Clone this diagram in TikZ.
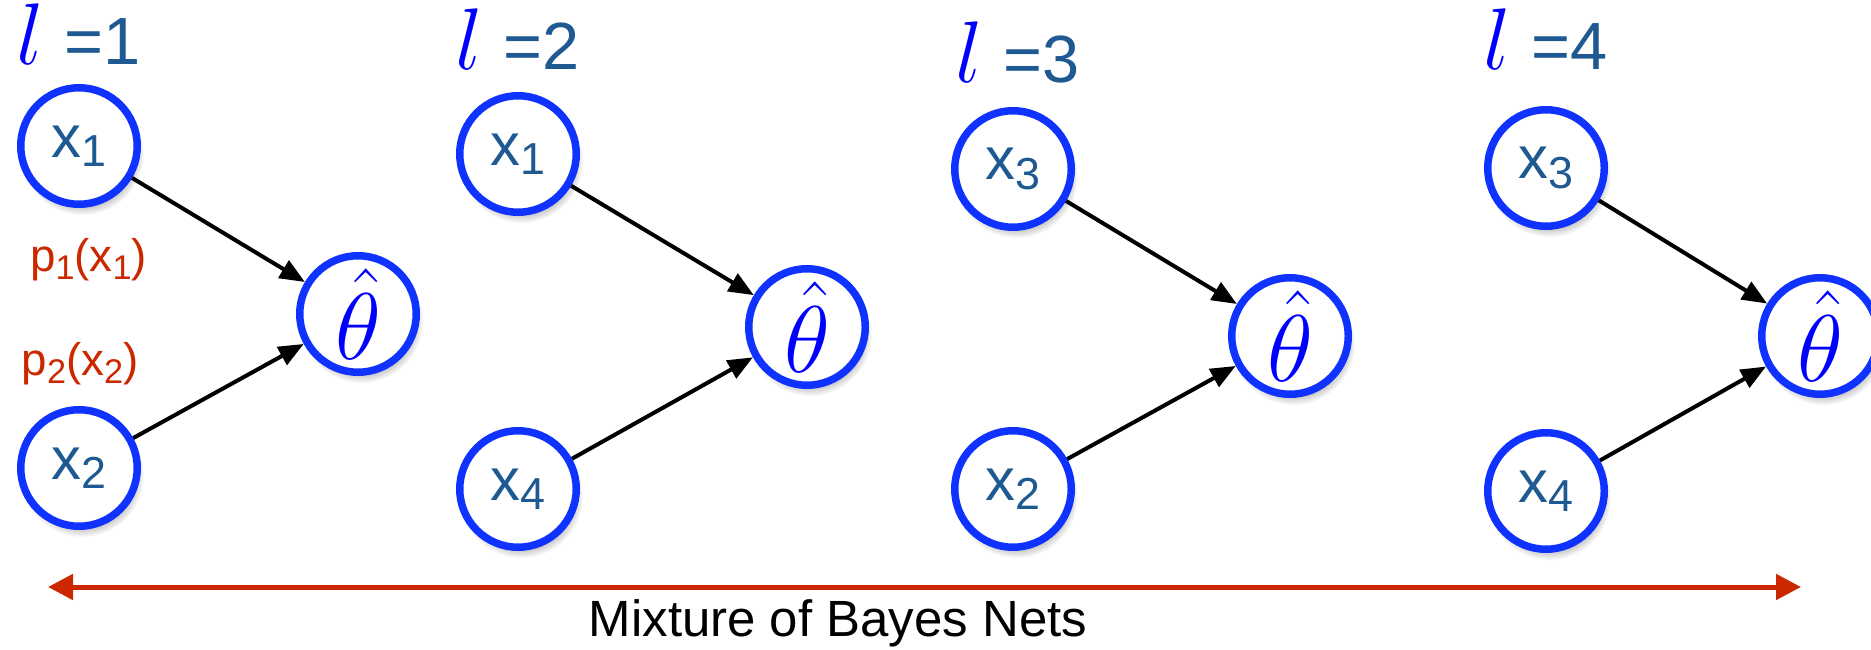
\documentclass[tikz,border=0pt]{standalone}
\usepackage[no-math]{fontspec}
\setmainfont{Liberation Sans}
\usetikzlibrary{arrows.meta, shadows}

\definecolor{ringblue}{RGB}{16,50,255}
\definecolor{labblue}{RGB}{30,90,145}
\definecolor{hatblue}{RGB}{0,0,255}
\definecolor{mixred}{RGB}{204,40,0}

\newcommand{\xsub}[1]{\raisebox{-0.3ex}{\scalebox{0.75}{#1}}}
\newcommand{\lval}[1]{\textcolor{hatblue}{\scalebox{1.2}{\huge$l$}}\hspace{0.2cm}#1}
\newcommand{\est}{\scalebox{1.3}{$\hat{\theta}$}}

\begin{document}
\begin{tikzpicture}[
    var/.style={circle, draw=ringblue, line width=0.075cm, fill=white, minimum size=1.165cm, inner sep=0pt,
                text=labblue, font=\fontsize{17}{19}\selectfont,
                circular drop shadow={shadow xshift=0.03cm, shadow yshift=-0.07cm, shadow scale=1.06, opacity=0.45}},
    est/.style={var, text=hatblue, font=\huge},
    lev/.style={anchor=base west, inner sep=0pt, text=labblue, font=\fontsize{19}{22}\selectfont},
    prob/.style={anchor=base, inner sep=0pt, text=mixred, font=\fontsize{13}{15}\selectfont},
    >={Triangle[length=0.25cm, width=0.2cm]}
]
\useasboundingbox (0,0) rectangle (18.71,-6.50);
\clip (0,0) rectangle (18.71,-6.50);

\node[lev] (la) at (0.16,-0.65) {\lval{=1}};
\node[lev] (lb) at (4.55,-0.70) {\lval{=2}};
\node[lev] (lc) at (9.55,-0.83) {\lval{=3}};
\node[lev] (ld) at (14.83,-0.70) {\lval{=4}};

\node[var] (x1a) at (0.79,-1.46) {x\xsub{1}};
\node[var] (x2a) at (0.79,-4.68) {x\xsub{2}};
\node[est] (tha) at (3.58,-3.14) {\est};

\node[var] (x1b) at (5.18,-1.54) {x\xsub{1}};
\node[var] (x4b) at (5.18,-4.89) {x\xsub{4}};
\node[est] (thb) at (8.07,-3.27) {\est};

\node[var] (x3c) at (10.13,-1.69) {x\xsub{3}};
\node[var] (x2c) at (10.13,-4.89) {x\xsub{2}};
\node[est] (thc) at (12.90,-3.36) {\est};

\node[var] (x3d) at (15.46,-1.68) {x\xsub{3}};
\node[var] (x4d) at (15.46,-4.91) {x\xsub{4}};
\node[est] (thd) at (18.20,-3.36) {\est};

\node[prob] (p1) at (0.885,-2.72) {p\xsub{1}(x\xsub{1})};
\node[prob] (p2) at (0.80,-3.76) {p\xsub{2}(x\xsub{2})};

\draw[->, line width=0.04cm] (x1a) -- (tha);
\draw[->, line width=0.04cm] (x2a) -- (tha);
\draw[->, line width=0.04cm] (x1b) -- (thb);
\draw[->, line width=0.04cm] (x4b) -- (thb);
\draw[->, line width=0.04cm] (x3c) -- (thc);
\draw[->, line width=0.04cm] (x2c) -- (thc);
\draw[->, line width=0.04cm] (x3d) -- (thd);
\draw[->, line width=0.04cm] (x4d) -- (thd);

\coordinate (mixL) at (0.48,-5.87);
\coordinate (mixR) at (18.01,-5.87);
\draw[{Triangle[length=0.25cm, width=0.25cm]}-{Triangle[length=0.25cm, width=0.25cm]}, mixred, line width=0.05cm] (mixL) -- (mixR);
\node[anchor=base, inner sep=0pt, font=\fontsize{14.5}{17}\selectfont] (mix) at (8.38,-6.36) {Mixture of Bayes Nets};
\end{tikzpicture}
\end{document}
